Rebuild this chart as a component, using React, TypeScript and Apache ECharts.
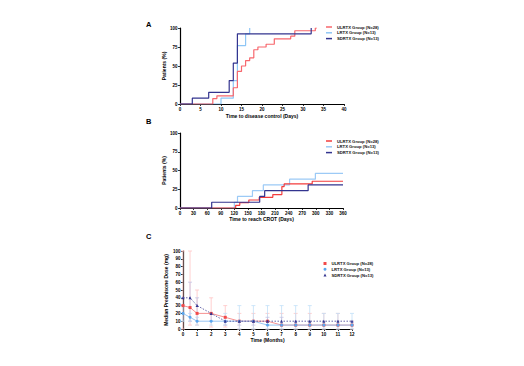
import { useEffect, useRef } from "react";
import * as echarts from "echarts";

// ---------- Panel A: time to disease control (days, cumulative %) ----------
const aUlrtx: [number, number][] = [[0,0],[8,7.1],[9,10.7],[13,21.4],[14,42.9],[15,50],[16,57.1],[17,60.7],[18,71.4],[19,75],[21,78.6],[23,85.7],[27,89.3],[28,96.4],[33,100],[33.4,100]];
const aLrtx: [number, number][] = [[0,0],[10,7.7],[13,30.8],[14,76.9],[16,92.3],[17,100]];
const aSdrtx: [number, number][] = [[0,0],[3,7.7],[7,15.4],[12,30.8],[13,53.8],[14,92.3],[32,100]];

// ---------- Panel B: time to reach CROT (days, cumulative %) ----------
const bUlrtx: [number, number][] = [[0,0],[123,3.6],[132,7.1],[152,10.7],[175,14.3],[205,17.9],[225,28.6],[230,32.1],[292,35.7],[360,35.7]];
const bLrtx: [number, number][] = [[0,0],[120,7.7],[127,15.4],[160,23.1],[184,30.8],[242,38.5],[299,46.2],[360,46.2]];
const bSdrtx: [number, number][] = [[0,0],[70,7.7],[176,15.4],[187,23.1],[283,30.8],[360,30.8]];

// ---------- Panel C: median prednisone dose (mg) ----------
const months = [0, 0.5, 1, 2, 3, 4, 5, 6, 7, 8, 9, 10, 11, 12];
const cUlrtxMed = [30, 27.5, 20, 20, 15, 10, 10, 10, 5, 5, 5, 5, 5, 5];
const cUlrtxLo = [0, 5, 5, 2.5, 2.5, 0, 0, 0, 0, 0, 0, 0, 0, 0];
const cUlrtxHi = [100, 100, 50, 40, 30, 20, 20, 20, 20, 20, 20, 20, 20, 10];
const cLrtxMed = [20, 15, 10, 10, 10, 10, 10, 5, 5, 5, 5, 5, 5, 5];
const cLrtxLo = [10, 10, 5, 5, 5, 0, 0, 0, 0, 0, 0, 0, 0, 0];
const cLrtxHi = [30, 20, 15, 10, 20, 30, 30, 30, 30, 30, 30, 20, 20, 20];
const cSdrtxMed = [40, 40, 30, 20, 10, 10, 10, 10, 10, 10, 10, 10, 10, 10];
const cSdrtxLo = [40, 10, 10, 10, 5, 5, 5, 5, 5, 5, 5, 5, 5, 5];
const cSdrtxHi = [40, 60, 40, 20, 10, 10, 10, 15, 15, 10, 10, 10, 10, 10];

const aTicks = { min: 0, max: 40, interval: 5 };
const bTicks = { min: 0, max: 360, interval: 30 };
const cTicks = { min: 0, max: 12, interval: 1 };

const names = ["ULRTX Group (N=28)", "LRTX Group (N=13)", "SDRTX Group (N=13)"];

const FONT = "Liberation Sans";
const RED_A = "#f7676d";
const BLUE_A = "#8ec6f5";
const NAVY = "#33348f";
const RED_B = "#f33d3d";
const BLUE_B = "#9ccaf6";
const RED_C = "#f24a4a";
const BLUE_C = "#5aa6ee";

const axisLine = { lineStyle: { color: "#000", width: 1.2 } };
const axisTick = { length: 2, lineStyle: { color: "#000", width: 0.8 } };
const axisLabel = { fontSize: 4.5, color: "#000", margin: 2.5, fontFamily: FONT, fontWeight: "bold" as const };
const nameTextStyle = { fontSize: 5, fontWeight: "bold" as const, color: "#000", fontFamily: FONT };

function xAxis(idx: number, t: { min: number; max: number; interval: number }, name: string, gap: number) {
  return {
    type: "value", gridIndex: idx, ...t, name, nameLocation: "middle", nameGap: gap,
    axisLine: { ...axisLine, onZero: false }, axisTick, axisLabel, nameTextStyle, splitLine: { show: false },
  };
}
function yAxis(idx: number, max: number, interval: number, name: string, gap: number) {
  return {
    type: "value", gridIndex: idx, min: 0, max, interval, name, nameLocation: "middle", nameGap: gap,
    axisLine: { ...axisLine, show: true }, axisTick: { ...axisTick, show: true }, axisLabel, nameTextStyle, splitLine: { show: false },
  };
}

function stepSeries(data: [number, number][], color: string, idx: number, z: number) {
  return {
    type: "line", step: "end", data, xAxisIndex: idx, yAxisIndex: idx, showSymbol: false, symbol: "none",
    lineStyle: { color, width: 1.2 }, itemStyle: { color }, z,
  };
}

function errSeries(med: number[], lo: number[], hi: number[], color: string, z: number) {
  return {
    type: "custom", xAxisIndex: 2, yAxisIndex: 2, z,
    data: months.map((m, i) => [m, lo[i], hi[i], med[i]]),
    encode: { x: 0, y: [1, 2] },
    renderItem: (_p: any, api: any) => {
      const x = api.value(0);
      const a = api.coord([x, api.value(1)]);
      const b = api.coord([x, api.value(2)]);
      const w = 2;
      const st = { stroke: color, lineWidth: 0.8 };
      return {
        type: "group",
        children: [
          { type: "line", shape: { x1: a[0], y1: a[1], x2: b[0], y2: b[1] }, style: st },
          { type: "line", shape: { x1: b[0] - w, y1: b[1], x2: b[0] + w, y2: b[1] }, style: st },
          { type: "line", shape: { x1: a[0] - w, y1: a[1], x2: a[0] + w, y2: a[1] }, style: st },
        ],
      };
    },
  };
}

function medSeries(med: number[], color: string, lineColor: string, symbol: string, z: number, lineType: any = "solid") {
  return {
    type: "line", xAxisIndex: 2, yAxisIndex: 2, z,
    data: months.map((m, i) => [m, med[i]]),
    symbol, symbolSize: 3, showSymbol: true,
    itemStyle: { color }, lineStyle: { color: lineColor, width: 0.9, type: lineType },
  };
}

function legend(top: number, left: number, colors: string[], icons: string[], w: number, h: number) {
  return {
    orient: "vertical", top, left, itemWidth: w, itemHeight: h, itemGap: 0.8,
    textStyle: { fontSize: 4.2, fontFamily: FONT, fontWeight: "bold", color: "#111", lineHeight: 5 },
    data: names.map((n, i) => ({ name: n, icon: icons[i], itemStyle: { color: colors[i] } })),
    selectedMode: false,
  };
}

const option: any = {
  animation: false,
  backgroundColor: "#fff",
  grid: [
    { left: 180, right: 180, top: 28, height: 76 },
    { left: 180, right: 181, top: 133, height: 75 },
    { left: 183, right: 172, top: 251, height: 78 },
  ],
  xAxis: [
    xAxis(0, aTicks, "Time to disease control (Days)", 9),
    xAxis(1, bTicks, "Time to reach CROT (Days)", 8),
    xAxis(2, cTicks, "Time (Months)", 8),
  ],
  yAxis: [
    yAxis(0, 100, 25, "Patients (%)", 12),
    yAxis(1, 100, 25, "Patients (%)", 12),
    yAxis(2, 100, 10, "Median Prednisone Dose (mg)", 14.5),
  ],
  legend: [
    legend(19.5, 321, [RED_A, BLUE_A, NAVY], ["rect", "rect", "rect"], 6, 1.5),
    legend(133.5, 321, [RED_B, BLUE_B, NAVY], ["rect", "rect", "rect"], 6, 1.5),
    legend(256, 318.5, [RED_C, BLUE_C, NAVY], ["rect", "circle", "triangle"], 3, 3),
  ],
  graphic: [
    { type: "text", left: 146, top: 20.5, style: { text: "A", font: `bold 7.5px "${FONT}"`, fill: "#000" } },
    { type: "text", left: 146, top: 117.5, style: { text: "B", font: `bold 7.5px "${FONT}"`, fill: "#000" } },
    { type: "text", left: 146, top: 232.5, style: { text: "C", font: `bold 7.5px "${FONT}"`, fill: "#000" } },
  ],
  series: [
    { name: names[0], ...stepSeries(aUlrtx, RED_A, 0, 3) },
    { name: names[1], ...stepSeries(aLrtx, BLUE_A, 0, 2) },
    { name: names[2], ...stepSeries(aSdrtx, NAVY, 0, 4) },
    { name: names[0], ...stepSeries(bUlrtx, RED_B, 1, 3) },
    { name: names[1], ...stepSeries(bLrtx, BLUE_B, 1, 2) },
    { name: names[2], ...stepSeries(bSdrtx, NAVY, 1, 4) },
    errSeries(cUlrtxMed, cUlrtxLo, cUlrtxHi, "#ffc4c4", 1),
    errSeries(cLrtxMed, cLrtxLo, cLrtxHi, "#c2e0f8", 1),
    errSeries(cSdrtxMed, cSdrtxLo, cSdrtxHi, "#c4c4e4", 1),
    { name: names[0], ...medSeries(cUlrtxMed, RED_C, "#f58585", "rect", 3) },
    { name: names[1], ...medSeries(cLrtxMed, BLUE_C, "#8fbff0", "circle", 3) },
    { name: names[2], ...medSeries(cSdrtxMed, NAVY, "#55559f", "triangle", 4, [1.5, 1.5]) },
  ],
};

export default function App() {
  const ref = useRef<HTMLDivElement>(null);
  useEffect(() => {
    const chart = echarts.init(ref.current!, null, { renderer: "svg" });
    chart.setOption(option);
    return () => chart.dispose();
  }, []);
  return (
    <div
      ref={ref}
      style={{ position: "fixed", left: 0, top: 0, width: 524, height: 366, background: "#fff" }}
    />
  );
}
